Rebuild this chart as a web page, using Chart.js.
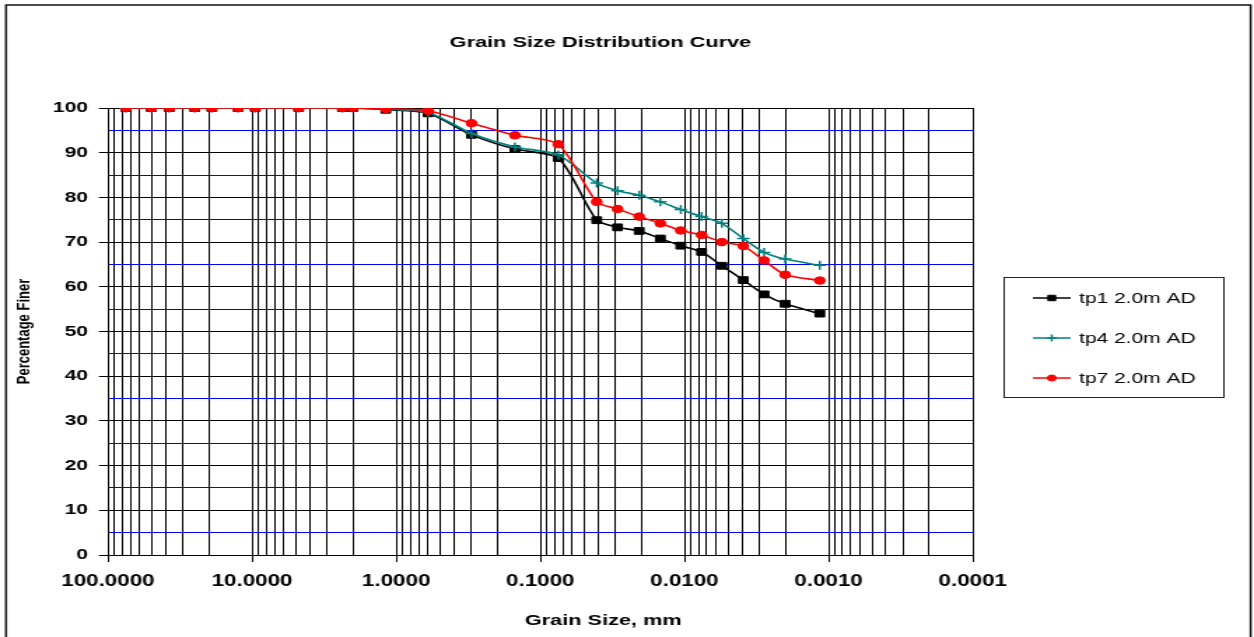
<!DOCTYPE html>
<html>
<head>
<meta charset="utf-8">
<title>Grain Size Distribution Curve</title>
<script src="https://cdn.jsdelivr.net/npm/chart.js@4.4.1/dist/chart.umd.min.js"></script>
<style>
  html, body { margin: 0; padding: 0; background: #fff; overflow: hidden; }
  /* sheet is laid out narrow, then widened like the exported worksheet chart */
  #wrap { position: relative; width: 896px; height: 637px; transform: scaleX(1.39955); transform-origin: 0 0; }
</style>
</head>
<body>
<div id="wrap"><canvas id="gsdChart"></canvas></div>
<script>
// grain size in mm: sieve sizes, then hydrometer diameters
const grainSize = [75, 50, 37.5, 25, 19, 12.5, 9.5, 4.75, 2.36, 2.0, 1.18, 0.6, 0.3, 0.15, 0.075,
  0.0406, 0.0291, 0.0206, 0.0147, 0.0106, 0.0076, 0.0055, 0.0039, 0.0028, 0.0020, 0.00115];

// percentage finer
const tp1 = [100, 100, 100, 100, 100, 100, 100, 100, 100, 100, 99.6, 98.8, 94.0, 90.8, 88.8,
  74.9, 73.3, 72.5, 70.8, 69.2, 67.8, 64.7, 61.5, 58.3, 56.2, 54.0];
const tp4 = [100, 100, 100, 100, 100, 100, 100, 100, 100, 100, 99.7, 99.0, 94.3, 91.3, 89.5,
  83.2, 81.5, 80.5, 79.0, 77.3, 75.7, 74.2, 70.8, 67.7, 66.2, 64.8];
const tp7 = [100, 100, 100, 100, 100, 100, 100, 100, 100, 100, 99.8, 99.4, 96.6, 93.9, 91.9,
  79.0, 77.4, 75.7, 74.2, 72.6, 71.6, 70.0, 69.1, 65.9, 62.7, 61.4];

const seriesNames = ['tp1 2.0m AD', 'tp4 2.0m AD', 'tp7 2.0m AD'];
const decadeTicks = [100, 10, 1, 0.1, 0.01, 0.001, 0.0001];

const FONT = '"Liberation Sans", Arial, Helvetica, sans-serif';

const toPoints = vals => vals.map((v, i) => ({ x: grainSize[i], y: v }));
const isDecade = v => Math.abs(Math.log10(v) - Math.round(Math.log10(v))) < 1e-9;

// 1..9 x each decade for the log grid
const logGrid = [];
decadeTicks.slice(1).forEach(d => {
  for (let k = 1; k <= 9; k++) logGrid.push(k * d);
});
logGrid.push(100);

// frame, titles and the boxed legend
const sheetDecor = {
  id: 'sheetDecor',
  beforeDraw(chart) {
    const ctx = chart.ctx;
    ctx.save();
    ctx.fillStyle = '#fff';
    ctx.fillRect(0, 0, chart.width, chart.height);
    ctx.strokeStyle = '#111';
    ctx.lineWidth = 1.5;
    ctx.beginPath();
    ctx.moveTo(4.3, chart.height + 5);
    ctx.lineTo(4.3, 5);
    ctx.lineTo(893.6, 5);
    ctx.lineTo(893.6, chart.height + 5);
    ctx.stroke();
    ctx.restore();
  },
  afterDraw(chart) {
    const ctx = chart.ctx;
    ctx.save();
    ctx.fillStyle = '#000';
    ctx.textAlign = 'center';
    ctx.textBaseline = 'middle';
    ctx.font = 'bold 15.5px ' + FONT;
    ctx.fillText('Grain Size Distribution Curve', 429, 43);
    ctx.fillText('Grain Size, mm', 431, 621);

    // legend
    ctx.strokeStyle = '#222';
    ctx.lineWidth = 1;
    ctx.strokeRect(717.5, 277.5, 157, 120);
    chart.data.datasets.forEach((ds, i) => {
      const y = 298 + i * 40;
      ctx.strokeStyle = ds.borderColor;
      ctx.lineWidth = 1.5;
      ctx.beginPath();
      ctx.moveTo(738, y);
      ctx.lineTo(765, y);
      ctx.stroke();
      ctx.fillStyle = ds.pointBackgroundColor;
      ctx.strokeStyle = ds.pointBorderColor;
      ctx.lineWidth = ds.pointBorderWidth;
      Chart.helpers.drawPoint(ctx, {
        pointStyle: ds.pointStyle, radius: ds.pointRadius * 0.8,
        borderWidth: ds.pointBorderWidth, rotation: 0
      }, 751.5, y);
      ctx.fillStyle = '#000';
      ctx.textAlign = 'left';
      ctx.font = '15px ' + FONT;
      ctx.fillText(ds.label, 771, y + 1);
    });
    ctx.restore();
  }
};

new Chart(document.getElementById('gsdChart'), {
  type: 'line',
  data: {
    datasets: [
      {
        label: seriesNames[0],
        data: toPoints(tp1),
        borderColor: '#000000',
        backgroundColor: '#000000',
        pointBackgroundColor: '#000000',
        pointBorderColor: '#000000',
        pointStyle: 'rect',
        pointRadius: 4.8,
        pointBorderWidth: 1,
        borderWidth: 1.6,
        tension: 0.25,
        order: 3
      },
      {
        label: seriesNames[1],
        data: toPoints(tp4),
        borderColor: '#008080',
        backgroundColor: '#008080',
        pointBackgroundColor: '#008080',
        pointBorderColor: '#008080',
        pointStyle: 'cross',
        pointRadius: 4.5,
        pointBorderWidth: 1.5,
        borderWidth: 1.6,
        tension: 0.25,
        order: 2
      },
      {
        label: seriesNames[2],
        data: toPoints(tp7),
        borderColor: '#ff0000',
        backgroundColor: '#ff0000',
        pointBackgroundColor: '#ff0000',
        pointBorderColor: '#ff0000',
        pointStyle: 'circle',
        pointRadius: 3.8,
        pointBorderWidth: 1,
        borderWidth: 1.6,
        tension: 0.25,
        order: 1
      }
    ]
  },
  options: {
    responsive: true,
    maintainAspectRatio: false,
    animation: false,
    layout: { padding: { left: 0, top: 108, right: 201, bottom: 0 } },
    plugins: {
      legend: { display: false },
      title: { display: false },
      tooltip: { enabled: false }
    },
    scales: {
      x: {
        type: 'logarithmic',
        reverse: true,
        min: 0.0001,
        max: 100,
        afterBuildTicks: scale => { scale.ticks = logGrid.map(v => ({ value: v })); },
        afterFit: scale => { scale.height = 82; },
        ticks: {
          autoSkip: false,
          maxRotation: 0,
          minRotation: 0,
          padding: 10,
          color: '#000',
          font: { family: FONT, size: 16, weight: 'bold' },
          callback: v => isDecade(v) ? Number(v).toFixed(4) : ''
        },
        grid: {
          color: '#000',
          lineWidth: 1,
          tickLength: 7,
          tickColor: ctx => (ctx.tick && isDecade(ctx.tick.value)) ? '#000' : 'rgba(0,0,0,0)'
        },
        border: { color: '#000', width: 1 }
      },
      y: {
        min: 0,
        max: 100,
        afterFit: scale => { scale.width = 77.1; },
        ticks: {
          stepSize: 5,
          padding: 7.8,
          color: '#000',
          font: { family: FONT, size: 15, weight: 'bold' },
          callback: v => v % 10 === 0 ? v : ''
        },
        grid: {
          color: ctx => (ctx.tick && ctx.tick.value % 10 !== 0) ? '#0000ff' : '#000',
          lineWidth: 1,
          tickLength: 6.4,
          tickColor: ctx => (ctx.tick && ctx.tick.value % 10 === 0) ? '#000' : 'rgba(0,0,0,0)'
        },
        border: { color: '#000', width: 1 },
        title: {
          display: true,
          text: 'Percentage Finer',
          color: '#000',
          padding: { top: 10, bottom: 0 },
          font: { family: FONT, size: 13, weight: 'bold' }
        }
      }
    }
  },
  plugins: [sheetDecor]
});
</script>
</body>
</html>
